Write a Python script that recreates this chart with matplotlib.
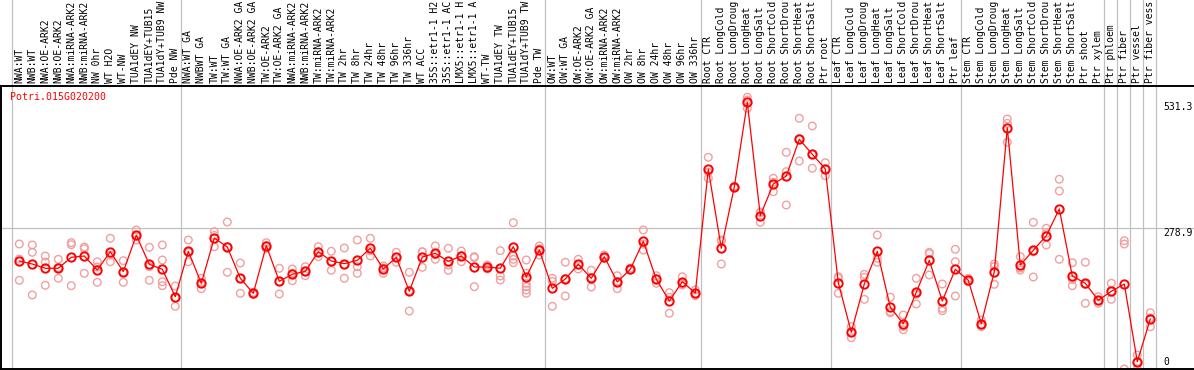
import matplotlib
matplotlib.use("Agg")
import matplotlib.pyplot as plt

# sample labels (top axis) as printed in the chart, grouped by the separators
labels = [
    "NWA:WT", "NWB:WT", "NWA:OE-ARK2", "NWB:OE-ARK2", "NWA:miRNA-ARK2",
    "NWB:miRNA-ARK2", "NW 0hr", "WT H2O", "WT-NW", "TUA1dEY NW",
    "TUA1dEY+TUB15", "TUA1dY+TUB9 NW", "Pde NW",
    "NWA:WT GA", "NWBWT GA", "TW:WT", "TW:WT GA", "NWA:OE-ARK2 GA",
    "NWB:OE-ARK2 GA", "TW:OE-ARK2", "TW:OE-ARK2 GA", "NWA:miRNA-ARK2",
    "NWB:miRNA-ARK2", "TW:miRNA-ARK2", "TW:miRNA-ARK2", "TW 2hr", "TW 8hr",
    "TW 24hr", "TW 48hr", "TW 96hr", "TW 336hr", "WT ACC", "35S::etr1-1 H2",
    "35S::etr1-1 AC", "LMX5::etr1-1 H", "LMX5::etr1-1 A", "WT-TW",
    "TUA1dEY TW", "TUA1dEY+TUB15", "TUA1dY+TUB9 TW", "Pde TW",
    "OW:WT", "OW:WT GA", "OW:OE-ARK2", "OW:OE-ARK2 GA", "OW:miRNA-ARK2",
    "OW:miRNA-ARK2", "OW 2hr", "OW 8hr", "OW 24hr", "OW 48hr", "OW 96hr",
    "OW 336hr",
    "Root CTR", "Root LongCold", "Root LongDroug", "Root LongHeat",
    "Root LongSalt", "Root ShortCold", "Root ShortDrou", "Root ShortHeat",
    "Root ShortSalt", "Ptr root",
    "Leaf CTR", "Leaf LongCold", "Leaf LongDroug", "Leaf LongHeat",
    "Leaf LongSalt", "Leaf ShortCold", "Leaf ShortDrou", "Leaf ShortHeat",
    "Leaf ShortSalt", "Ptr leaf",
    "Stem CTR", "Stem LongCold", "Stem LongDroug", "Stem LongHeat",
    "Stem LongSalt", "Stem ShortCold", "Stem ShortDrou", "Stem ShortHeat",
    "Stem ShortSalt", "Ptr shoot", "Ptr xylem",
    "Ptr phloem", "Ptr fiber", "Ptr vessel", "Ptr fiber vess",
]
group_starts = [0, 13, 41, 53, 63, 73, 84, 85, 86, 87, 88]

means = [
    210.7, 204.4, 195.5, 195.5, 218.4, 221.1, 191.9, 230.1, 188.4, 264.3,
    203.8, 193.4, 136.2, 230.9, 164.2, 258.7, 239.9, 174.6, 143.3, 242.6,
    168.3, 182.9, 189.2, 230.1, 210.7, 205.1, 212.1, 237.2, 194.0, 218.4,
    147.5, 219.0, 226.8, 210.1, 221.1, 198.2, 198.2, 195.5, 240.5, 177.3,
    233.6, 153.7, 173.1, 203.8, 174.6, 219.7, 166.9, 193.4, 251.8, 172.5,
    127.2, 167.5, 143.9, 402.0, 237.2, 365.1, 541.7, 305.2, 371.3, 388.0,
    464.6, 433.3, 402.6, 165.4, 62.0, 162.7, 230.9, 114.1, 79.9, 145.4,
    212.1, 127.2, 193.4, 170.4, 79.9, 188.4, 488.7, 202.3, 233.0, 263.5,
    319.2, 179.4, 164.2, 128.7, 147.5, 162.7, 0.6, 89.7,
]

reps = [
    [246.2, 214.8, 170.4], [244.1, 228.8, 139.8], [221.1, 208.6, 160.0],
    [214.2, 174.6, 197.0], [248.9, 244.7, 159.2], [239.9, 236.3, 185.0],
    [209.2, 198.2, 166.3], [258.0, 209.2, 223.0], [211.3, 166.3, 187.6],
    [275.4, 254.5, 263.0], [239.3, 198.8, 170.4], [244.1, 212.8, 167.5, 159.2],
    [158.5, 116.2, 134.0], [254.5, 209.2, 229.0], [174.6, 152.9, 165.0],
    [271.8, 240.5, 264.0], [292.0, 187.1, 240.5], [206.5, 143.3, 174.0],
    [145.4, 143.3, 141.0], [248.9, 236.3, 242.6], [195.5, 141.8, 167.6],
    [194.0, 169.6, 185.0], [198.8, 180.0, 189.0], [240.5, 219.7, 230.0],
    [230.9, 191.3, 210.0], [237.8, 174.6, 203.0], [254.5, 198.8, 185.0],
    [258.0, 221.1, 232.0], [200.3, 185.0, 196.0], [228.8, 208.0, 218.0],
    [187.1, 106.4, 149.0], [229.5, 197.5, 230.0], [242.0, 214.2, 224.0],
    [237.2, 191.3, 202.0], [231.5, 209.2, 222.0], [219.7, 157.1, 218.0],
    [202.3, 194.0, 198.0], [232.2, 179.4, 171.1], [290.6, 221.1, 214.2, 207.1],
    [212.8, 185.0, 164.2, 157.1, 150.2, 143.3], [242.0, 223.2, 236.0],
    [174.6, 116.2, 168.0], [208.0, 137.7, 174.0], [214.2, 194.0, 203.0],
    [191.3, 156.5, 176.0], [223.2, 216.3, 219.0], [180.0, 152.9, 168.0],
    [196.0, 192.0, 192.0], [275.4, 233.6, 246.0], [180.0, 164.2, 173.0],
    [144.6, 101.6, 135.0], [177.9, 160.6, 164.0], [150.2, 138.3, 143.0],
    [427.0, 383.2, 396.0], [254.5, 204.4, 252.0], [366.5, 363.6, 365.0],
    [552.2, 546.5, 529.2], [311.4, 291.4, 313.0], [383.2, 355.2, 375.0],
    [437.4, 397.0, 327.5], [508.4, 419.3, 466.0], [492.3, 404.1, 433.0],
    [415.7, 388.6, 403.0], [177.9, 143.3, 175.0], [73.6, 50.7, 62.0],
    [182.9, 176.7, 130.8], [264.9, 216.3, 208.0], [135.0, 102.8, 105.0],
    [98.0, 67.4, 74.0], [174.6, 121.0, 141.0], [228.8, 181.5, 226.0],
    [162.7, 112.0, 107.0], [235.1, 209.2, 137.7], [174.6, 167.5, 169.0],
    [87.6, 73.6, 78.0], [204.4, 162.1, 199.0], [506.9, 497.9, 458.3],
    [219.7, 191.9, 196.0], [291.4, 177.3, 230.0], [278.9, 244.1, 268.0],
    [381.1, 356.7, 214.2], [207.1, 159.2, 172.0], [208.0, 122.4, 162.0],
    [136.2, 122.4, 128.0], [164.2, 130.8, 147.0], [253.0, 246.1, -14.6],
    [14.6, -14.6, 1.0], [102.8, 73.6, 92.0],
]

gene = "Potri.015G020200"
y_ticks = [0, 278.9, 531.3]

W, H = 1194, 370
mono = "DejaVu Sans Mono"
fig = plt.figure(figsize=(W / 100, H / 100), dpi=100)
ax = fig.add_axes([1 / W, 1 / H, 1193 / W, 283 / H])

xs = list(range(len(labels)))
ax.set_xlim((1 - 19.3) / 13, (W - 19.3) / 13)
ax.set_ylim((362 - 369) / 0.4794, (362 - 86) / 0.4794)

# separators between sample groups, running up through the label strip
for s in group_starts:
    ax.axvline(s - 0.6, ymin=0, ymax=1.31, color="#c0c0c0", lw=0.9,
               clip_on=False, zorder=1)
ax.axhline(278.9, color="#c0c0c0", lw=0.9, zorder=1)

# replicates
rx = [i for i, r in enumerate(reps) for _ in r]
ry = [v for r in reps for v in r]
ax.scatter(rx, ry, s=30, facecolors="none", edgecolors="#f0a0a0",
           linewidths=1.0, zorder=2)

# mean line
ax.plot(xs, means, color="red", lw=0.9, marker="o", ms=6, mfc="none",
        mec="red", mew=1.4, zorder=3)

ax.set_xticks(xs)
ax.set_xticklabels(labels, rotation=90, fontfamily=mono, fontsize=7.0)
ax.tick_params(axis="x", top=True, labeltop=True, bottom=False,
               labelbottom=False, length=0, pad=2.2)

ax.set_yticks(y_ticks)
ax.set_yticklabels([f"{v:g}" for v in y_ticks], fontfamily=mono, fontsize=7)
ax.tick_params(axis="y", left=False, labelleft=False, right=True,
               labelright=True, length=0, pad=-22.3)
for t in ax.get_yticklabels():
    t.set_va("top" if t.get_text() == "278.9" else "center")

for side in ["left", "top", "bottom"]:
    ax.spines[side].set_color("black")
    ax.spines[side].set_linewidth(1.4)
ax.spines["right"].set_visible(False)

fig.text(10 / W, 1 - 97 / H, gene, color="red", fontfamily=mono,
         fontsize=7.1, va="center", ha="left")

fig.savefig("out.png", dpi=100)
